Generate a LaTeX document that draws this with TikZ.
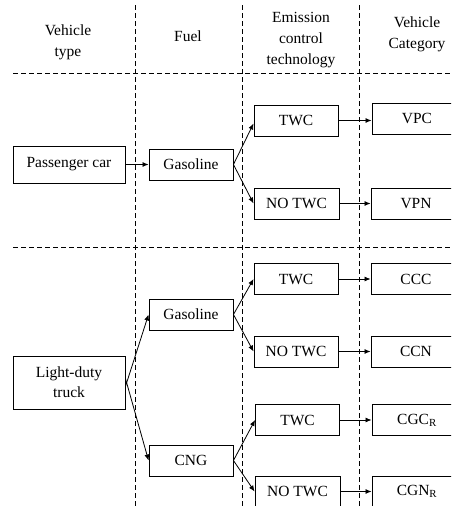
\documentclass[tikz,border=0pt]{standalone}
\usepackage{fontspec}
\setmainfont{Liberation Serif}
\usetikzlibrary{arrows.meta}
\begin{document}
\begin{tikzpicture}[x=1pt,y=-1pt,
  box/.style={draw,line width=0.9pt,inner sep=0pt,minimum height=31pt,minimum width=84pt,font=\fontsize{15.5}{18}\selectfont},
  hdr/.style={align=center,inner sep=0pt,font=\fontsize{15.5}{21}\selectfont},
  sep/.style={line width=0.8pt,dash pattern=on 4.5pt off 3.5pt},
  arr/.style={line width=0.8pt,-{Latex[length=6pt,width=5pt]}}]
\clip (0,0) rectangle (451,506);
\fill[white] (0,0) rectangle (451,506);
% separators
\draw[sep] (135,5) -- (135,506);
\draw[sep] (242,5) -- (242,506);
\draw[sep] (359,5) -- (359,506);
\draw[sep] (13,73) -- (451,73);
\draw[sep] (13,247) -- (451,247);
% headers
\node[hdr] (h1) at (68,42) {Vehicle\\type};
\node[hdr] (h2) at (188,36) {Fuel};
\node[hdr] (h3) at (301,40) {Emission\\control\\technology};
\node[hdr] (h4) at (417,34) {Vehicle\\Category};
% boxes
\node[box,minimum width=112pt,minimum height=37pt] (pc) at (69,164.5) {Passenger car};
\node[box] (gas1) at (191,164.5) {Gasoline};
\node[box] (twc1) at (296,120.5) {TWC};
\node[box,minimum width=85pt] (notwc1) at (296.5,203.5) {NO TWC};
\node[box,minimum width=90pt] (vpc) at (417,118.5) {VPC};
\node[box,minimum width=90pt] (vpn) at (416,203.5) {VPN};
\node[box,minimum width=112pt,minimum height=53pt,align=center,font=\fontsize{15.5}{20}\selectfont] (ldt) at (69,382.5) {Light-duty\\truck};
\node[box] (gas2) at (191,314.5) {Gasoline};
\node[box] (cng) at (191,460.5) {CNG};
\node[box] (twc2) at (296,279) {TWC};
\node[box] (notwc2) at (296,351.5) {NO TWC};
\node[box] (twc3) at (297.5,420) {TWC};
\node[box,minimum width=85pt] (notwc3) at (297.5,491.5) {NO TWC};
\node[box,minimum width=90pt] (ccc) at (416,279) {CCC};
\node[box,minimum width=90pt] (ccn) at (416,351.5) {CCN};
\node[box,minimum width=90pt] (cgc) at (417,420) {CGC\textsubscript{R}};
\node[box,minimum width=90pt] (cgn) at (417,491.5) {CGN\textsubscript{R}};
% connectors
\draw[arr] (pc.east) -- (pc.east -| gas1.west);
\draw[arr] (gas1.east) -- ([yshift=-3pt]twc1.west);
\draw[arr] (gas1.east) -- (notwc1.west);
\draw[arr] (twc1.east) -- (twc1.east -| vpc.west);
\draw[arr] (notwc1.east) -- (notwc1.east -| vpn.west);
\draw[arr] ([yshift=-4pt]ldt.east) -- (gas2.west);
\draw[arr] ([yshift=4pt]ldt.east) -- (cng.west);
\draw[arr] (gas2.east) -- (twc2.west);
\draw[arr] (gas2.east) -- (notwc2.west);
\draw[arr] (cng.east) -- (twc3.west);
\draw[arr] (cng.east) -- (notwc3.west);
\draw[arr] (twc2.east) -- (twc2.east -| ccc.west);
\draw[arr] (notwc2.east) -- (notwc2.east -| ccn.west);
\draw[arr] (twc3.east) -- (twc3.east -| cgc.west);
\draw[arr] (notwc3.east) -- (notwc3.east -| cgn.west);
\end{tikzpicture}
\end{document}
